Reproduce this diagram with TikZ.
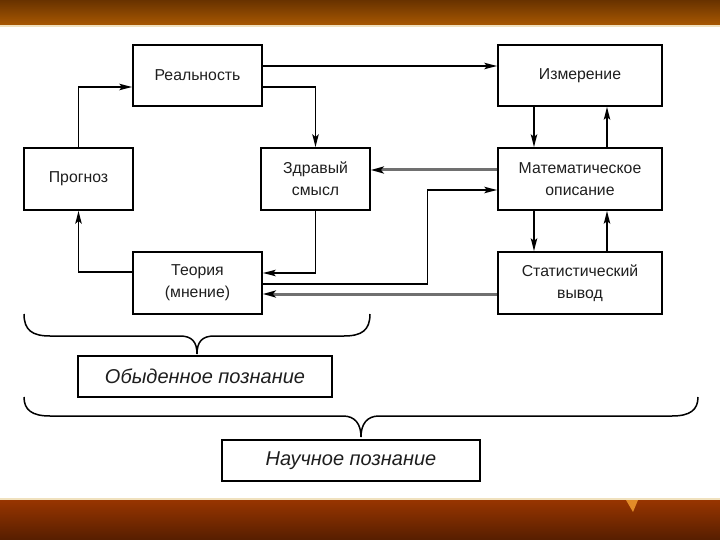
\documentclass[tikz,border=0pt]{standalone}
\usepackage{fontspec}
\setmainfont{Liberation Sans}
\usetikzlibrary{arrows.meta}
\definecolor{txt}{HTML}{1E1E1E}
\definecolor{lgray}{HTML}{707070}
\definecolor{bandtop}{RGB}{104,50,0}
\definecolor{bandmid}{RGB}{168,88,2}
\definecolor{cream}{RGB}{240,225,190}
\definecolor{bandlo1}{RGB}{152,53,0}
\definecolor{bandlo2}{RGB}{86,30,0}
\definecolor{tri}{RGB}{226,140,40}
\tikzset{
  box/.style={draw=black, line width=1.7pt, inner sep=2pt, align=center, text=txt,
    font=\fontsize{15.8}{22}\selectfont},
  capbox/.style={box, font=\fontsize{20}{22}\selectfont\itshape},
  conn/.style={line width=1.5pt, -{Stealth[length=13pt,width=6.5pt,inset=3pt]}},
  gconn/.style={line width=3pt, draw=lgray, -{Stealth[length=13pt,width=7pt,inset=3pt,color=black]}},
  bracepath/.style={line width=1.5pt}
}
\begin{document}
\begin{tikzpicture}[x=1pt,y=-1pt]
\useasboundingbox (0,0) rectangle (720,540);
% bands
\shade[top color=bandtop, bottom color=bandmid] (0,0) rectangle (720,25);
\fill[cream] (0,25) rectangle (720,27);
\fill[cream] (0,498) rectangle (720,500);
\shade[top color=bandlo1, bottom color=bandlo2] (0,500) rectangle (720,540);
\fill[tri] (626,500) -- (638,500) -- (633,512) -- cycle;

% boxes
\node[box, minimum width=129pt, minimum height=61pt] (real) at (197.5,75.5) {Реальность};
\node[box, minimum width=164pt, minimum height=61pt] (izm) at (580,75.5) {Измерение};
\node[box, minimum width=109pt, minimum height=62pt] (prog) at (78.5,179) {Прогноз};
\node[box, minimum width=109pt, minimum height=62pt] (zdr) at (315.5,179) {Здравый\\смысл};
\node[box, minimum width=164pt, minimum height=62pt] (mat) at (580,179) {Математическое\\описание};
\node[box, minimum width=129pt, minimum height=62pt] (teor) at (197.5,283) {Теория\\(мнение)};
\node[box, minimum width=164pt, minimum height=62pt] (stat) at (580,283) {Статистический\\вывод};
\node[capbox, minimum width=254pt, minimum height=41pt] (obyd) at (205,376.5) {Обыденное познание};
\node[capbox, minimum width=258pt, minimum height=41pt] (nauch) at (351,460.5) {Научное познание};

% connectors
\draw[conn] ([yshift=9.5pt]real.east) -- ([yshift=9.5pt]izm.west);
\draw[conn] ([yshift=-11.5pt]real.east) -| (zdr.north);
\draw[conn] (prog.north) |- ([yshift=-11.5pt]real.west);
\draw[conn] ([yshift=11pt]teor.west) -| (prog.south);
\draw[conn] (zdr.south) |- ([yshift=10pt]teor.east);
\draw[gconn] ([yshift=9pt]mat.west) -- ([yshift=9pt]zdr.east);
\draw[conn] ([yshift=-1pt]teor.east) -- ++(164.5,0) |- ([yshift=-11pt]mat.west);
\draw[gconn] ([yshift=-11pt]stat.west) -- ([yshift=-11pt]teor.east);
\draw[conn] ([xshift=-46pt]izm.south) -- ([xshift=-46pt]mat.north);
\draw[conn] ([xshift=27pt]mat.north) -- ([xshift=27pt]izm.south);
\draw[conn] ([xshift=-46pt]mat.south) -- ([xshift=-46pt]stat.north);
\draw[conn] ([xshift=27pt]stat.north) -- ([xshift=27pt]mat.south);

% braces
\draw[bracepath] (24,314) .. controls (24,330) and (32,336) .. (50,336) -- (180,336)
  .. controls (192,336) and (197,342) .. (197,354)
  .. controls (197,342) and (202,336) .. (214,336) -- (344,336)
  .. controls (362,336) and (370,330) .. (370,314);
\draw[bracepath] (24,397) .. controls (24,410) and (32,416) .. (50,416) -- (343,416)
  .. controls (355,416) and (361,424) .. (361,437)
  .. controls (361,424) and (367,416) .. (379,416) -- (672,416)
  .. controls (690,416) and (698,410) .. (698,397);
\end{tikzpicture}
\end{document}
